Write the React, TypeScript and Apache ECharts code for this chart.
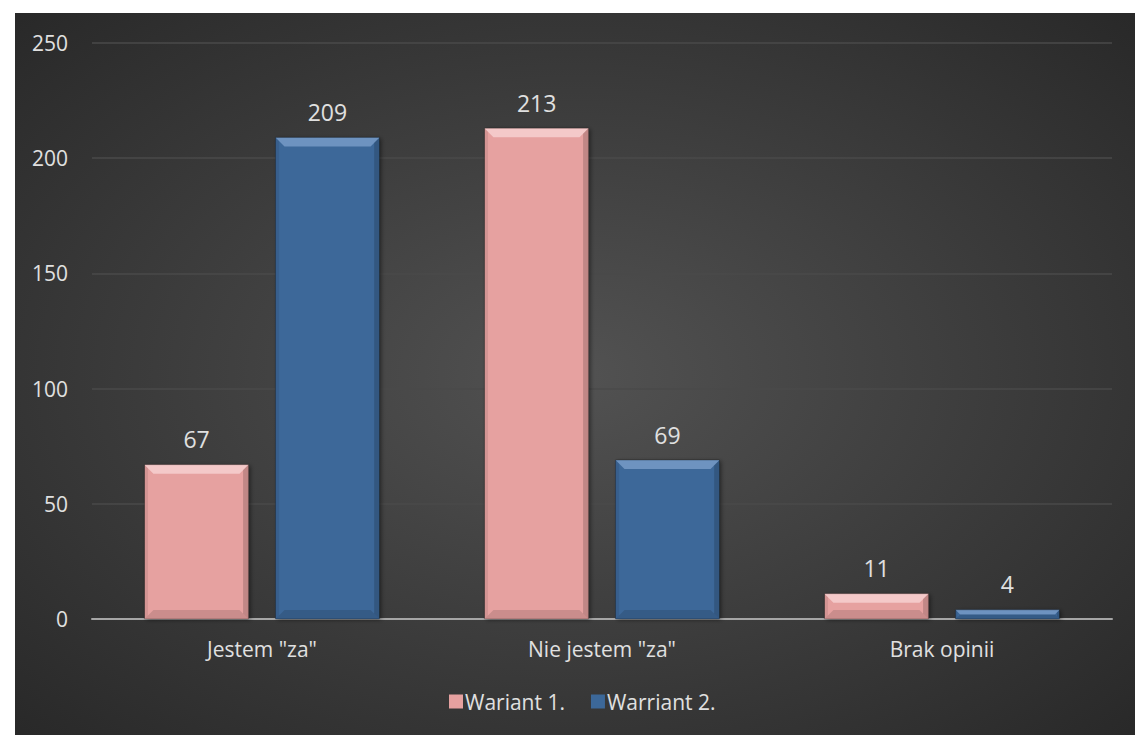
import React, { useEffect, useRef } from "react";
import * as echarts from "echarts";

const categories = ['Jestem "za"', 'Nie jestem "za"', "Brak opinii"];
const seriesNames = ["Wariant 1.", "Warriant 2."];
const wariant1 = [67, 213, 11];
const wariant2 = [209, 69, 4];
const yTicks = { min: 0, max: 250, interval: 50 };

const FONT = "'Open Sans', 'Noto Sans', sans-serif";
const BAR_FRAC = 0.306;
const GAP_FRAC = 0.26;

export default function App() {
  const ref = useRef<HTMLDivElement>(null);
  useEffect(() => {
    if (!ref.current) return;
    const chart = echarts.init(ref.current, null, { renderer: "svg" });
    const barStyle = (base: string) => ({
      color: base,
      shadowColor: "rgba(0,0,0,0.45)",
      shadowBlur: 4,
      shadowOffsetX: 2,
      shadowOffsetY: 1,
    });
    const label = {
      show: true,
      position: "top",
      distance: 14,
      color: "#e0e0e0",
      fontSize: 23,
      fontFamily: FONT,
    };
    const bevelData: number[][] = [];
    wariant1.forEach((v, i) => bevelData.push([i, v, 0]));
    wariant2.forEach((v, i) => bevelData.push([i, v, 1]));

    const renderBevel = (params: any, api: any) => {
      const ci = api.value(0);
      const v = api.value(1);
      const s = api.value(2);
      const band = api.size([1, 0])[0];
      const bw = band * BAR_FRAC;
      const gap = bw * GAP_FRAC;
      const total = bw * 2 + gap;
      const base = api.coord([ci, 0]);
      const topP = api.coord([ci, v]);
      const x0 = base[0] - total / 2 + s * (bw + gap);
      const x1 = x0 + bw;
      const y0 = topP[1];
      const y1 = base[1];
      const h = y1 - y0;
      const b = Math.min(9, h / 2);
      const light = s === 0 ? "rgba(255,235,235,0.55)" : "rgba(170,200,240,0.45)";
      return {
        type: "group",
        children: [
          {
            type: "polygon",
            shape: { points: [[x0, y0], [x1, y0], [x1 - b, y0 + b], [x0 + b, y0 + b]] },
            style: { fill: light },
          },
          {
            type: "polygon",
            shape: { points: [[x1, y0], [x1, y1], [x1 - b * 0.6, y1 - b * 0.6], [x1 - b * 0.6, y0 + b * 0.6]] },
            style: { fill: "rgba(0,0,0,0.16)" },
          },
          {
            type: "polygon",
            shape: { points: [[x0, y0], [x0 + b * 0.4, y0 + b * 0.4], [x0 + b * 0.4, y1 - b * 0.4], [x0, y1]] },
            style: { fill: "rgba(0,0,0,0.08)" },
          },
          {
            type: "polygon",
            shape: { points: [[x0, y1], [x0 + b, y1 - b], [x1 - b, y1 - b], [x1, y1]] },
            style: { fill: "rgba(0,0,0,0.12)" },
          },
          {
            type: "rect",
            shape: { x: x0, y: y0, width: bw, height: h },
            style: { fill: "none", stroke: "rgba(0,0,0,0.25)", lineWidth: 1 },
          },
        ],
      };
    };

    chart.setOption({
      animation: false,
      backgroundColor: "#ffffff",
      graphic: [
        {
          type: "rect",
          z: -10,
          silent: true,
          shape: { x: 15, y: 13, width: 1120, height: 722 },
          style: {
            fill: {
              type: "radial",
              x: 0.5,
              y: 0.5,
              r: 0.75,
              colorStops: [
                { offset: 0, color: "#525252" },
                { offset: 1, color: "#262626" },
              ],
            },
          },
        },
      ],
      grid: { left: 92, right: 23, top: 43, bottom: 116, containLabel: false },
      legend: {
        data: seriesNames,
        bottom: 18,
        left: 444,
        itemWidth: 14,
        itemHeight: 14,
        itemGap: 26,
        icon: "rect",
        textStyle: { color: "#e0e0e0", fontSize: 21, fontFamily: FONT, padding: [0, 0, 0, -3] },
      },
      xAxis: {
        type: "category",
        data: categories,
        axisLine: { show: true, lineStyle: { color: "#a6a6a6", width: 2 } },
        axisTick: { show: false },
        axisLabel: { color: "#e0e0e0", fontSize: 21, fontFamily: FONT, margin: 19 },
      },
      yAxis: {
        type: "value",
        min: yTicks.min,
        max: yTicks.max,
        interval: yTicks.interval,
        axisLine: { show: false },
        axisTick: { show: false },
        axisLabel: { color: "#e0e0e0", fontSize: 21, fontFamily: FONT, margin: 24 },
        splitLine: { lineStyle: { color: "#4a4a4a", width: 1.5 } },
      },
      series: [
        {
          name: seriesNames[0],
          type: "bar",
          data: wariant1,
          barGap: "26%",
          barCategoryGap: "31%",
          itemStyle: barStyle("#e6a1a0"),
          label,
        },
        {
          name: seriesNames[1],
          type: "bar",
          data: wariant2,
          barGap: "26%",
          barCategoryGap: "31%",
          itemStyle: barStyle("#3c6899"),
          label,
        },
        {
          name: "bevel",
          type: "custom",
          renderItem: renderBevel,
          data: bevelData,
          silent: true,
          z: 5,
          tooltip: { show: false },
        },
      ],
    });
    return () => chart.dispose();
  }, []);
  return (
    <div
      ref={ref}
      style={{ position: "absolute", left: 0, top: 0, width: 1135, height: 735 }}
    />
  );
}
